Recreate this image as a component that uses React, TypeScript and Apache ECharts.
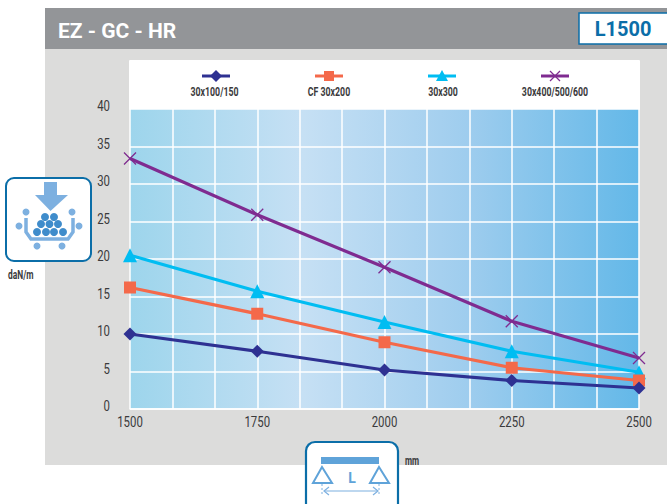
import React, { useEffect, useRef } from "react";
import * as echarts from "echarts";

const lengths = [1500, 1750, 2000, 2250, 2500];
const yTicks = [0, 5, 10, 15, 20, 25, 30, 35, 40];
const seriesNames = ["30x100/150", "CF 30x200", "30x300", "30x400/500/600"];
const valuesA = [10, 7.7, 5.2, 3.8, 2.8];
const valuesB = [16.2, 12.7, 8.9, 5.5, 3.8];
const valuesC = [20.5, 15.7, 11.6, 7.7, 4.9];
const valuesD = [33.4, 25.9, 18.9, 11.7, 6.8];
const allValues = [valuesA, valuesB, valuesC, valuesD];
const colors = ["#2e3192", "#f4694a", "#00bdf2", "#7f2b90"];
const title = "EZ - GC - HR";
const badge = "L1500";
const yUnit = "daN/m";
const xUnit = "mm";
const beamLabel = "L";

const CROSS = "path://M0 0L10 10M10 0L0 10";
const symbols = ["diamond", "rect", "triangle", CROSS];
const symbolSizes = [13, 12, 14, 12];

const blue = "#0b6ea8";
const light = "#7db0e0";
const mid = "#3f8ccb";
const ink = "#3a3a3c";
const ROBOTO = "Roboto, sans-serif";

function squeezed(x: number, y: number, text: string, font: string, scaleX: number, align: string) {
  return {
    type: "text",
    z: 6,
    x,
    y,
    scaleX,
    style: { x: 0, y: 0, text, align, verticalAlign: "middle", font, fill: ink },
  };
}

function legendItem(i: number, cx: number, textCx: number) {
  const c = colors[i];
  const y = 76;
  const children: any[] = [
    { type: "line", shape: { x1: cx - 14, y1: y, x2: cx + 14, y2: y }, style: { stroke: c, lineWidth: 3 } },
  ];
  if (i === 0) children.push({ type: "polygon", shape: { points: [[cx, y - 6], [cx + 6, y], [cx, y + 6], [cx - 6, y]] }, style: { fill: c } });
  if (i === 1) children.push({ type: "rect", shape: { x: cx - 5, y: y - 5, width: 10, height: 10 }, style: { fill: c } });
  if (i === 2) children.push({ type: "polygon", shape: { points: [[cx, y - 6], [cx + 6, y + 5], [cx - 6, y + 5]] }, style: { fill: c } });
  if (i === 3) {
    children.push({ type: "line", shape: { x1: cx - 5, y1: y - 5, x2: cx + 5, y2: y + 5 }, style: { stroke: c, lineWidth: 1.2 } });
    children.push({ type: "line", shape: { x1: cx + 5, y1: y - 5, x2: cx - 5, y2: y + 5 }, style: { stroke: c, lineWidth: 1.2 } });
  }
  children.push(squeezed(textCx, 91, seriesNames[i], `bold 13.5px ${ROBOTO}`, 0.65, "center"));
  return { type: "group", z: 5, children };
}

function dot(cx: number, cy: number, r: number, fill: string) {
  return { type: "circle", shape: { cx, cy, r }, style: { fill } };
}

function App() {
  const ref = useRef<HTMLDivElement>(null);
  useEffect(() => {
    if (!ref.current) return;
    const chart = echarts.init(ref.current, undefined, { renderer: "svg" });
    chart.setOption({
      animation: false,
      backgroundColor: "#ffffff",
      grid: {
        left: 130,
        right: 28,
        top: 109,
        bottom: 95,
        show: true,
        borderWidth: 0,
        backgroundColor: new echarts.graphic.LinearGradient(0, 0, 1, 0, [
          { offset: 0, color: "#9dd5ec" },
          { offset: 0.34, color: "#c6e0f4" },
          { offset: 0.66, color: "#9fcdee" },
          { offset: 1, color: "#63b8e8" },
        ]),
      },
      xAxis: {
        type: "value",
        min: lengths[0],
        max: lengths[lengths.length - 1],
        interval: 250,
        axisLine: { show: true, onZero: false, lineStyle: { color: "#ffffff", width: 1.5 } },
        axisTick: { show: false },
        minorTick: { show: false, splitNumber: 3 },
        splitLine: { show: true, lineStyle: { color: "#ffffff", width: 1.5 } },
        minorSplitLine: { show: true, lineStyle: { color: "#ffffff", width: 1.5 } },
        axisLabel: { show: false },
      },
      yAxis: {
        type: "value",
        min: yTicks[0],
        max: yTicks[yTicks.length - 1],
        interval: 5,
        axisLine: { show: false },
        axisTick: { show: false },
        splitLine: { show: true, lineStyle: { color: "#ffffff", width: 1.5 } },
        axisLabel: { show: false },
      },
      series: [3, 2, 1, 0].map((i) => ({
        type: "line",
        name: seriesNames[i],
        data: lengths.map((x, k) => [x, allValues[i][k]]),
        z: 5 - i,
        clip: false,
        color: colors[i],
        symbol: symbols[i],
        symbolSize: symbolSizes[i],
        showAllSymbol: true,
        lineStyle: { color: colors[i], width: 3.2 },
        itemStyle: i === 3 ? { color: "rgba(0,0,0,0)", borderColor: colors[i], borderWidth: 1.3 } : { color: colors[i] },
      })),
    });

    const tickFont = `15px ${ROBOTO}`;
    const xLabels = lengths.map((v) => {
      const px = chart.convertToPixel({ xAxisIndex: 0 }, v) as number;
      return squeezed(px, 422, String(v), tickFont, 0.76, "center");
    });
    const yLabels = yTicks.map((v) => {
      const py = chart.convertToPixel({ yAxisIndex: 0 }, v) as number;
      return squeezed(110, py - 3, String(v), tickFont, 0.76, "right");
    });

    chart.setOption({
      graphic: [
        { type: "rect", z: -10, shape: { x: 45, y: 49, width: 622, height: 416 }, style: { fill: "#dcdcdb" } },
        { type: "rect", z: -10, shape: { x: 45, y: 8, width: 622, height: 41 }, style: { fill: "#939598" } },
        { type: "rect", z: -9, shape: { x: 129, y: 60, width: 511, height: 50, r: 1 }, style: { fill: "#ffffff" } },
        { type: "text", z: 5, style: { x: 58, y: 31, text: title, verticalAlign: "middle", font: `bold 21px ${ROBOTO}`, fill: "#ffffff" } },
        { type: "rect", z: 5, shape: { x: 579, y: 13, width: 90, height: 31 }, style: { fill: "#ffffff", stroke: blue, lineWidth: 1.5 } },
        { type: "text", z: 6, style: { x: 623, y: 29, text: badge, align: "center", verticalAlign: "middle", font: `bold 20px ${ROBOTO}`, fill: blue } },
        legendItem(0, 216, 214.5),
        legendItem(1, 329, 329),
        legendItem(2, 442, 443),
        legendItem(3, 555, 555),
        ...xLabels,
        ...yLabels,
        squeezed(8, 275, yUnit, `bold 12px ${ROBOTO}`, 0.7, "left"),
        squeezed(405, 461, xUnit, `bold 12px ${ROBOTO}`, 0.68, "left"),
        {
          type: "group",
          z: 8,
          children: [
            { type: "rect", shape: { x: 6, y: 178, width: 85, height: 83, r: 8 }, style: { fill: "#ffffff", stroke: blue, lineWidth: 2 } },
            { type: "polygon", shape: { points: [[44, 182], [57, 182], [57, 195], [68, 195], [50.5, 211], [35, 195], [44, 195]] }, style: { fill: light } },
            { type: "polyline", shape: { points: [[26, 218], [26, 232], [31, 239], [68, 239], [73, 232], [73, 218]] }, style: { fill: "none", stroke: light, lineWidth: 3.5 } },
            dot(26, 212, 3.5, light), dot(72, 212, 3.5, light), dot(19, 226, 3.5, light),
            dot(79, 226, 3.5, light), dot(37, 246, 3.5, light), dot(62, 246, 3.5, light),
            dot(45, 217, 4, mid), dot(54, 217, 4, mid),
            dot(41, 224, 4, mid), dot(49.5, 224, 4, mid), dot(58, 224, 4, mid),
            dot(37, 232, 4, mid), dot(46, 232, 4, mid), dot(54, 232, 4, mid), dot(63, 232, 4, mid),
          ],
        },
        {
          type: "group",
          z: 8,
          children: [
            { type: "rect", shape: { x: 306, y: 442, width: 92, height: 80, r: 9 }, style: { fill: "#ffffff", stroke: blue, lineWidth: 2.2 } },
            { type: "rect", shape: { x: 321, y: 457, width: 58, height: 7 }, style: { fill: "#5fa3d9" } },
            { type: "polygon", shape: { points: [[322, 467], [332, 483], [313, 483]] }, style: { fill: "#ffffff", stroke: "#5fa3d9", lineWidth: 2 } },
            { type: "polygon", shape: { points: [[379, 467], [389, 483], [370, 483]] }, style: { fill: "#ffffff", stroke: "#5fa3d9", lineWidth: 2 } },
            { type: "text", style: { x: 352, y: 478, text: beamLabel, align: "center", verticalAlign: "middle", font: `bold 14px ${ROBOTO}`, fill: "#5fa3d9" } },
            { type: "line", shape: { x1: 325, y1: 491, x2: 377, y2: 491 }, style: { stroke: light, lineWidth: 1.2 } },
            { type: "polyline", shape: { points: [[329, 487], [324, 491], [329, 495]] }, style: { fill: "none", stroke: light, lineWidth: 1.2 } },
            { type: "polyline", shape: { points: [[373, 487], [378, 491], [373, 495]] }, style: { fill: "none", stroke: light, lineWidth: 1.2 } },
            { type: "line", shape: { x1: 322, y1: 484, x2: 322, y2: 495 }, style: { stroke: light, lineWidth: 1, lineDash: [2, 2] } },
            { type: "line", shape: { x1: 379, y1: 484, x2: 379, y2: 495 }, style: { stroke: light, lineWidth: 1, lineDash: [2, 2] } },
          ],
        },
      ],
    });
    return () => chart.dispose();
  }, []);
  return <div ref={ref} style={{ position: "fixed", left: 0, top: 0, width: 667, height: 504 }} />;
}

export default App;
